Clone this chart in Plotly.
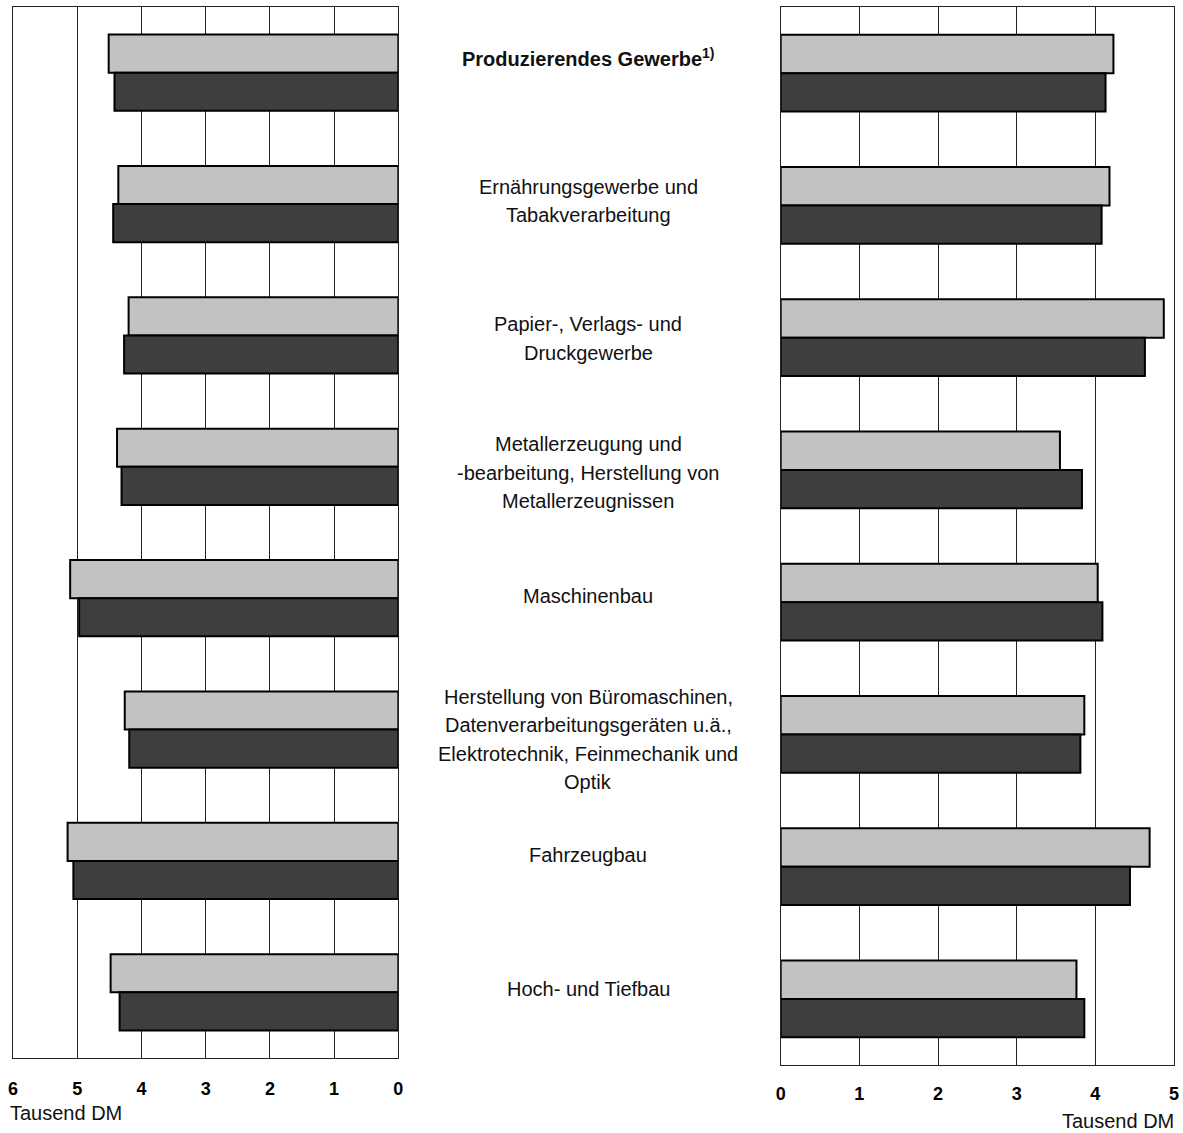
import plotly.graph_objects as go

categories = [
    "Produzierendes Gewerbe",
    "Ernährungsgewerbe und Tabakverarbeitung",
    "Papier-, Verlags- und Druckgewerbe",
    "Metallerzeugung und -bearbeitung, Herstellung von Metallerzeugnissen",
    "Maschinenbau",
    "Herstellung von Büromaschinen, Datenverarbeitungsgeräten u.ä., Elektrotechnik, Feinmechanik und Optik",
    "Fahrzeugbau",
    "Hoch- und Tiefbau",
]
label_lines = [
    ["<b>Produzierendes Gewerbe<sup>1)</sup></b>"],
    ["Ernährungsgewerbe und", "Tabakverarbeitung"],
    ["Papier-, Verlags- und", "Druckgewerbe"],
    ["Metallerzeugung und", "-bearbeitung, Herstellung von", "Metallerzeugnissen"],
    ["Maschinenbau"],
    ["Herstellung von Büromaschinen,", "Datenverarbeitungsgeräten u.ä.,",
     "Elektrotechnik, Feinmechanik und", "Optik"],
    ["Fahrzeugbau"],
    ["Hoch- und Tiefbau"],
]

left_light = [4.51, 4.36, 4.20, 4.38, 5.11, 4.26, 5.15, 4.48]
left_dark = [4.42, 4.44, 4.27, 4.31, 4.97, 4.19, 5.06, 4.34]
right_light = [4.23, 4.18, 4.87, 3.55, 4.03, 3.86, 4.69, 3.76]
right_dark = [4.13, 4.08, 4.63, 3.83, 4.09, 3.81, 4.44, 3.86]

left_ticks = [6, 5, 4, 3, 2, 1, 0]
right_ticks = [0, 1, 2, 3, 4, 5]
unit_label = "Tausend DM"

LIGHT = "#c2c2c2"
DARK = "#3e3e3e"
FONT = "Liberation Sans, Arial, sans-serif"

fig = go.Figure()
for vals, col, nm in [(left_light, LIGHT, "A"), (left_dark, DARK, "B")]:
    fig.add_trace(go.Bar(y=categories, x=vals, orientation="h", name=nm,
                         marker=dict(color=col, line=dict(color="black", width=2)),
                         xaxis="x", yaxis="y", showlegend=False))
for vals, col, nm in [(right_light, LIGHT, "A"), (right_dark, DARK, "B")]:
    fig.add_trace(go.Bar(y=categories, x=vals, orientation="h", name=nm,
                         marker=dict(color=col, line=dict(color="black", width=2)),
                         xaxis="x2", yaxis="y2", showlegend=False))

W, H = 1183, 1133


def hx(p):
    # compensate slight horizontal scaling seen in the rendered page
    return (p + 0.97) / 0.9974


# page-pixel geometry of the plotting areas
P_LEFT, P_RIGHT, P_TOP, P_BOTTOM = hx(12), hx(1175), 7, 1065
ml = P_LEFT
mr = W - P_RIGHT
mt = P_TOP
mb = H - P_BOTTOM
pw = W - ml - mr
ph = H - mt - mb


def px_x(p):
    return (hx(p) - P_LEFT) / pw


def px_y(p):
    return (P_BOTTOM - p) / ph


axis_common = dict(showgrid=True, gridcolor="#222222", gridwidth=1, zeroline=False,
                   showline=True, linecolor="#222222", linewidth=1, mirror=True,
                   ticks="", tickfont=dict(family=FONT, size=18, color="black", weight="bold"))

fig.update_layout(
    width=W, height=H,
    margin=dict(l=ml, r=mr, t=mt, b=mb, pad=0),
    paper_bgcolor="white", plot_bgcolor="white",
    barmode="group", bargap=0.42, bargroupgap=0,
    xaxis=dict(domain=[0, px_x(398)], range=[6, 0], tickvals=left_ticks,
               anchor="y", ticklabelstandoff=14, **axis_common),
    yaxis=dict(domain=[px_y(1058), 1], autorange="reversed", showticklabels=False,
               showgrid=False, zeroline=False, showline=True, linecolor="#222222",
               linewidth=1, mirror=True, ticks="", anchor="x"),
    xaxis2=dict(domain=[px_x(781), 1], range=[0, 5], tickvals=right_ticks,
                anchor="y2", ticklabelstandoff=12, **axis_common),
    yaxis2=dict(domain=[0, 1], autorange="reversed", showticklabels=False,
                showgrid=False, zeroline=False, showline=True, linecolor="#222222",
                linewidth=1, mirror=True, ticks="", anchor="x2"),
)

line_h = 28.5
shifts = [15, 3, -3, -6, 2, -10, 6, 3]
annotations = []
for cat, lines, sh in zip(categories, label_lines, shifts):
    n = len(lines)
    for i, ln in enumerate(lines):
        annotations.append(dict(
            x=px_x(588), xref="paper", y=cat, yref="y", text=ln, showarrow=False,
            xanchor="center", yanchor="middle",
            yshift=sh - (i - (n - 1) / 2) * line_h,
            font=dict(family=FONT, size=20, color="#111111")))

annotations.append(dict(x=px_x(7), xref="paper", y=px_y(1113), yref="paper",
                        text=unit_label, showarrow=False, xanchor="left", yanchor="middle",
                        font=dict(family=FONT, size=20, color="#111111")))
annotations.append(dict(x=px_x(1177), xref="paper", y=px_y(1121), yref="paper",
                        text=unit_label, showarrow=False, xanchor="right", yanchor="middle",
                        font=dict(family=FONT, size=20, color="#111111")))
fig.update_layout(annotations=annotations)

fig.write_html(
    "out.html",
    config={"displayModeBar": False, "responsive": False},
    post_script="document.body.style.margin='0';document.body.style.overflow='hidden';",
)
